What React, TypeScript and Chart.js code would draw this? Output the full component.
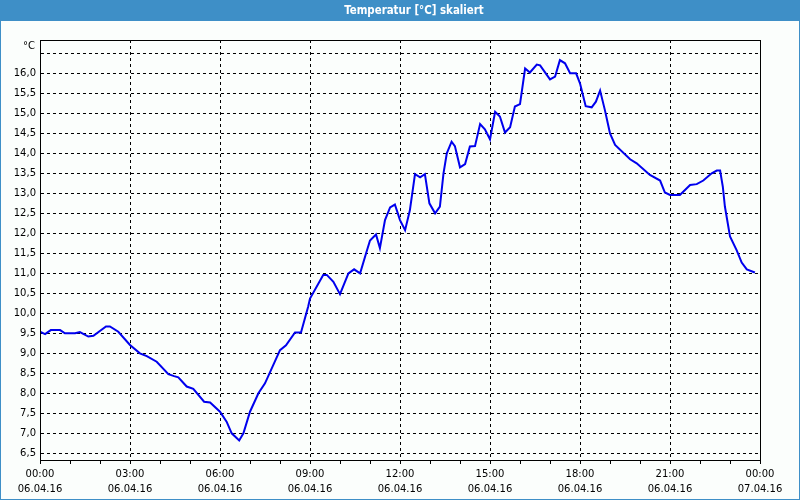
import React, { useEffect, useRef } from 'react';
import { Chart, registerables } from 'chart.js';

Chart.register(...registerables);

const TITLE = 'Temperatur [°C] skaliert';
const UNIT = '°C';

// time in hours since 06.04.16 00:00
const hours = [
  0, 0.17, 0.36, 0.67, 0.83, 1.17, 1.33, 1.61, 1.78, 2.2, 2.33, 2.61, 3.0, 3.33, 3.56, 3.89,
  4.28, 4.47, 4.61, 4.89, 5.11, 5.47, 5.67, 6.0, 6.22, 6.39, 6.64, 6.78, 7.0, 7.28, 7.5, 8.0,
  8.2, 8.5, 8.7, 8.94, 9.0, 9.44, 9.56, 9.78, 10.0, 10.28, 10.47, 10.67, 10.87, 11.0, 11.2,
  11.33, 11.5, 11.67, 11.83, 12.0, 12.17, 12.33, 12.5, 12.67, 12.83, 12.98, 13.17, 13.33,
  13.45, 13.56, 13.72, 13.83, 14.0, 14.17, 14.33, 14.5, 14.67, 14.83, 15.0, 15.17, 15.33,
  15.5, 15.67, 15.83, 16.0, 16.17, 16.33, 16.56, 16.67, 17.0, 17.17, 17.33, 17.5, 17.67,
  17.87, 18.0, 18.19, 18.39, 18.53, 18.67, 18.83, 19.0, 19.17, 19.67, 19.89, 20.33, 20.67,
  20.83, 21.0, 21.33, 21.67, 21.89, 22.11, 22.39, 22.56, 22.67, 22.76, 22.83, 23.0, 23.22,
  23.39, 23.56, 23.83,
];

const temps = [
  9.54, 9.48, 9.58, 9.58, 9.5, 9.5, 9.53, 9.42, 9.44, 9.67, 9.67, 9.54, 9.21, 9.0, 8.93, 8.79,
  8.48, 8.43, 8.4, 8.17, 8.11, 7.79, 7.77, 7.54, 7.29, 7.0, 6.82, 7.0, 7.54, 8.0, 8.25, 9.08,
  9.2, 9.52, 9.52, 10.17, 10.37, 10.96, 10.96, 10.79, 10.48, 11.0, 11.1, 11.0, 11.5, 11.82, 11.97,
  11.63, 12.33, 12.65, 12.72, 12.33, 12.08, 12.58, 13.48, 13.4, 13.48, 12.75, 12.5, 12.67,
  13.5, 14.0, 14.29, 14.18, 13.65, 13.73, 14.17, 14.18, 14.73, 14.6, 14.35, 15.04, 14.92,
  14.52, 14.65, 15.17, 15.23, 16.12, 16.02, 16.22, 16.2, 15.85, 15.92, 16.33, 16.25, 16.0,
  16.0, 15.75, 15.18, 15.15, 15.29, 15.57, 15.08, 14.5, 14.21, 13.85, 13.75, 13.46, 13.32,
  13.02, 12.96, 12.96, 13.21, 13.23, 13.32, 13.5, 13.57, 13.57, 13.17, 12.67, 11.92, 11.58,
  11.27, 11.1, 11.02,
];

const yTicks = [6.5, 7, 7.5, 8, 8.5, 9, 9.5, 10, 10.5, 11, 11.5, 12, 12.5, 13, 13.5, 14, 14.5, 15, 15.5, 16, 16.5];
const yLabelled = [6.5, 7, 7.5, 8, 8.5, 9, 9.5, 10, 10.5, 11, 11.5, 12, 12.5, 13, 13.5, 14, 14.5, 15, 15.5, 16];
const xTickHours = [0, 1, 2, 3, 4, 5, 6, 7, 8, 9, 10, 11, 12, 13, 14, 15, 16, 17, 18, 19, 20, 21, 22, 23, 24];
const xLabelHours = [0, 3, 6, 9, 12, 15, 18, 21, 24];
const xLabelTimes = ['00:00', '03:00', '06:00', '09:00', '12:00', '15:00', '18:00', '21:00', '00:00'];
const xLabelDates = ['06.04.16', '06.04.16', '06.04.16', '06.04.16', '06.04.16', '06.04.16', '06.04.16', '06.04.16', '07.04.16'];

const Y_MIN = 6.333;
const Y_MAX = 16.833;

const BLUE = '#3e8fc7';
const BG = '#fbfefc';
const TICK_FONT = { family: 'DejaVu Sans', size: 10, lineHeight: 1.5 };

const framePlugin = {
  id: 'frame',
  beforeDraw(chart: any) {
    const { ctx, width, height } = chart;
    ctx.save();
    ctx.fillStyle = BG;
    ctx.fillRect(0, 0, width, height);
    ctx.fillStyle = BLUE;
    ctx.fillRect(0, 0, width, 21);
    ctx.fillRect(0, 21, 1, height - 21);
    ctx.fillRect(width - 1, 21, 1, height - 21);
    ctx.fillRect(0, height - 1, width, 1);
    ctx.fillStyle = '#ffffff';
    ctx.font = 'bold 11.4px "DejaVu Sans Condensed", "DejaVu Sans"';
    ctx.textAlign = 'center';
    ctx.textBaseline = 'middle';
    ctx.fillText(TITLE, 414, 11);
    ctx.restore();
  },
  afterDraw(chart: any) {
    const { ctx, chartArea } = chart;
    const { left, top, right, bottom } = chartArea;
    ctx.save();
    ctx.strokeStyle = '#000';
    ctx.lineWidth = 1;
    ctx.setLineDash([]);
    ctx.strokeRect(Math.round(left) + 0.5, Math.round(top) + 0.5, Math.round(right - left), Math.round(bottom - top));
    ctx.fillStyle = '#000';
    ctx.font = '10px "DejaVu Sans"';
    ctx.textAlign = 'right';
    ctx.textBaseline = 'middle';
    ctx.fillText(UNIT, left - 5, top + 6);
    ctx.restore();
  },
};

export default function App() {
  const ref = useRef<HTMLCanvasElement | null>(null);

  useEffect(() => {
    if (!ref.current) return;
    const chart = new Chart(ref.current, {
      type: 'line',
      data: {
        datasets: [
          {
            data: hours.map((h, i) => ({ x: h, y: temps[i] })),
            borderColor: '#0000ee',
            borderWidth: 2,
            pointRadius: 0,
            tension: 0,
            fill: false,
          },
        ],
      },
      options: {
        responsive: false,
        animation: false,
        devicePixelRatio: 1,
        layout: { padding: { left: 0, top: 40, right: 40, bottom: 0 } },
        plugins: { legend: { display: false }, tooltip: { enabled: false }, title: { display: false } },
        scales: {
          x: {
            type: 'linear',
            min: 0,
            max: 24,
            afterBuildTicks: (s: any) => {
              s.ticks = xTickHours.map((v) => ({ value: v }));
            },
            afterFit: (s: any) => {
              s.height = 40;
            },
            ticks: {
              autoSkip: false,
              maxRotation: 0,
              padding: 3,
              color: '#000',
              font: TICK_FONT,
              callback: (v: any) => {
                const i = xLabelHours.indexOf(Number(v));
                return i >= 0 ? [xLabelTimes[i], xLabelDates[i]] : '';
              },
            },
            grid: {
              color: (c: any) => (c.tick && xLabelHours.indexOf(c.tick.value) >= 0 ? '#000' : 'rgba(0,0,0,0)'),
              tickColor: '#000',
              tickLength: 4,
              lineWidth: 1,
            },
            border: { color: '#000', width: 1, dash: [3, 3] },
          },
          y: {
            type: 'linear',
            min: Y_MIN,
            max: Y_MAX,
            afterBuildTicks: (s: any) => {
              s.ticks = yTicks.map((v) => ({ value: v }));
            },
            afterFit: (s: any) => {
              s.width = 40;
            },
            ticks: {
              padding: 4,
              color: '#000',
              font: TICK_FONT,
              callback: (v: any) => (yLabelled.indexOf(Number(v)) >= 0 ? Number(v).toFixed(1).replace('.', ',') : ''),
            },
            grid: { color: '#000', drawTicks: false, tickLength: 0, lineWidth: 1 },
            border: { color: '#000', width: 1, dash: [3, 3] },
          },
        },
      },
      plugins: [framePlugin],
    } as any);
    return () => chart.destroy();
  }, []);

  return (
    <div style={{ position: 'absolute', left: 0, top: 0, width: 800, height: 500 }}>
      <canvas ref={ref} width={800} height={500} style={{ display: 'block', width: 800, height: 500 }} />
    </div>
  );
}
